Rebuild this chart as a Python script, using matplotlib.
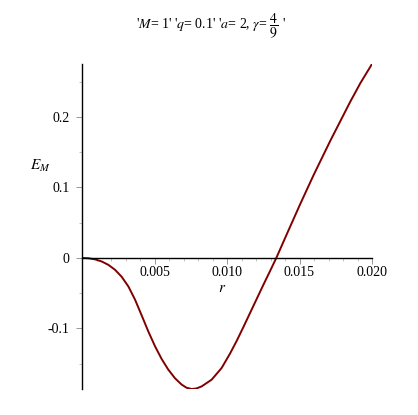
import matplotlib
matplotlib.use("Agg")
import matplotlib.pyplot as plt
from matplotlib.ticker import MultipleLocator, FixedLocator

plt.rcParams['mathtext.fontset'] = 'stix'
plt.rcParams['font.family'] = ['Liberation Serif', 'DejaVu Serif']

r_vals = [0.0, 0.00044, 0.0009, 0.00136, 0.00182, 0.00228, 0.00274, 0.0032,
          0.00366, 0.00413, 0.00459, 0.00505, 0.0055, 0.00594, 0.00641,
          0.00687, 0.00721, 0.00756, 0.0079, 0.00825, 0.00894, 0.00963,
          0.01021, 0.01067, 0.01113, 0.01159, 0.01205, 0.01251, 0.01297,
          0.0134, 0.01413, 0.01504, 0.01596, 0.01712, 0.0185, 0.0192, 0.020]
E_vals = [0.0, -0.0004, -0.0020, -0.0050, -0.0098, -0.0168, -0.0268, -0.0405,
          -0.0592, -0.0822, -0.1050, -0.1258, -0.1435, -0.1580, -0.1705,
          -0.1795, -0.1840, -0.1858, -0.1850, -0.1821, -0.1726, -0.1560,
          -0.1355, -0.1175, -0.0980, -0.0780, -0.0580, -0.0380, -0.0185,
          0.0, 0.034, 0.076, 0.117, 0.166, 0.2215, 0.248, 0.275]

x_ticks = [0.005, 0.010, 0.015, 0.020]
x_tick_labels = ['0.005', '0.010', '0.015', '0.020']
y_ticks = [-0.1, 0.0, 0.1, 0.2]
y_tick_labels = ['-0.1', '0', '0.1', '0.2']

fig = plt.figure(figsize=(4.18, 4.15), dpi=100)
ax = fig.add_axes([82/418, 1-389/415, (372-82)/418, (389-64)/415])

ax.plot(r_vals, E_vals, color='#800000', lw=1.4, solid_capstyle='round',
        solid_joinstyle='round')

ax.set_xlim(0, 0.020)
ax.set_ylim(-0.1858, 0.275)

for s in ['top', 'right']:
    ax.spines[s].set_visible(False)
ax.spines['left'].set_position(('data', 0))
ax.spines['bottom'].set_position(('data', 0))
ax.spines['left'].set_linewidth(1.0)
ax.spines['bottom'].set_linewidth(1.0)

ax.xaxis.set_major_locator(FixedLocator(x_ticks))
ax.set_xticklabels(x_tick_labels)
ax.xaxis.set_minor_locator(MultipleLocator(0.001))
ax.yaxis.set_major_locator(FixedLocator(y_ticks))
ax.set_yticklabels(y_tick_labels)
ax.yaxis.set_minor_locator(MultipleLocator(0.05))

ax.tick_params(axis='both', which='major', direction='out', length=4, width=0.6,
               color='#888888', labelsize=10)
ax.tick_params(axis='x', which='major', pad=2)
ax.tick_params(axis='y', which='major', pad=5)
ax.tick_params(axis='both', which='minor', direction='out', length=2, width=0.5,
               color='#aaaaaa')

fig.text(222/418, 1-289/415, r'$r$', ha='center', va='center', fontsize=11)
fig.text(40/418, 1-166/415, r'$E_M$', ha='center', va='center', fontsize=11)
fig.text(211/418, 1-26/415,
         r"'$M$= 1' '$q$= 0.1' '$a$= 2, $\gamma$= $\dfrac{4}{9}$ '",
         ha='center', va='center', fontsize=10)

fig.savefig('out.png', dpi=100)
